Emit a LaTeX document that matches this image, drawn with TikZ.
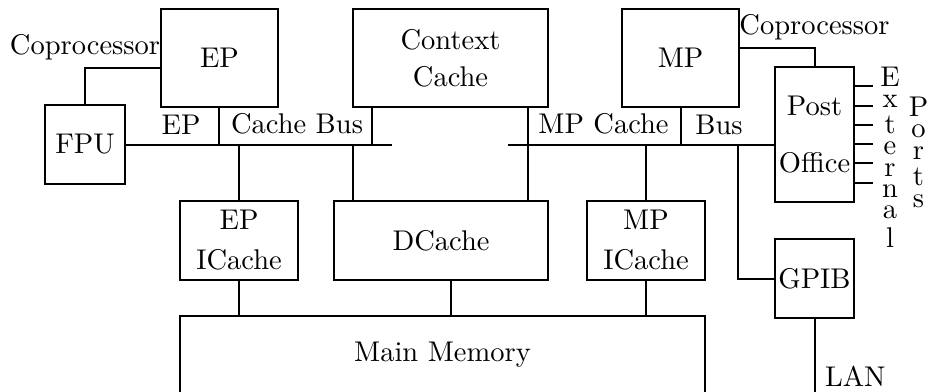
\documentclass[tikz,border=0pt]{standalone}
\usepackage{tikz}
\begin{document}
\begin{tikzpicture}[line width=0.7pt, box/.style={draw, align=center, inner sep=1pt}]
\useasboundingbox (0,0) rectangle (11.442,-4.833);
\clip (0,0) rectangle (11.442,-4.833);
\node [box, minimum width=1.443cm, minimum height=1.208cm] (EP) at (2.706,-0.715) {EP};
\node [box, minimum width=2.404cm, minimum height=1.208cm] (CC) at (5.555,-0.715) {Context\\[1pt]Cache};
\node [box, minimum width=1.443cm, minimum height=1.208cm] (MP) at (8.391,-0.715) {MP};
\node [box, minimum width=0.986cm, minimum height=0.974cm] (FPU) at (1.048,-1.782) {FPU};
\node [box, minimum width=0.974cm, minimum height=1.665cm] (PO) at (10.043,-1.658) {Post\\[8pt]Office};
\node [box, minimum width=1.455cm, minimum height=0.974cm] (EPI) at (2.947,-2.965) {EP\\[2pt]ICache};
\node [box, minimum width=2.639cm, minimum height=0.974cm] (DC) at (5.438,-2.965) {DCache};
\node [box, minimum width=1.455cm, minimum height=0.974cm] (MPI) at (7.965,-2.965) {MP\\[2pt]ICache};
\node [box, minimum width=0.974cm, minimum height=0.974cm] (GPIB) at (10.043,-3.434) {GPIB};
\node [box, minimum width=6.473cm, minimum height=0.962cm] (Mem) at (5.456,-4.377) {Main Memory};
\coordinate (busL) at (4.833,-1.788);
\coordinate (busR) at (6.264,-1.788);
\coordinate (gp) at (9.100,-1.788);
\coordinate (lan) at (10.043,-4.9);
\coordinate (ccL) at ([xshift=0.247cm]CC.south west);
\coordinate (ccR) at ([xshift=-0.259cm]CC.south east);
\coordinate (dcL) at ([xshift=0.247cm]DC.north west);
\coordinate (dcM) at (CC.south |- DC.south);
\draw ([yshift=-0.123cm]EP.west) -| node[above, inner sep=2.3pt] (cpE) {Coprocessor} (FPU.north);
\draw ([yshift=0.123cm]MP.east) -| node[above, inner sep=2.3pt] (cpM) {Coprocessor} (PO.north);
\draw (FPU.east |- busL) -- (busL);
\draw (busR) -- (busR -| PO.west);
\draw (EP.south) -- (EP.south |- busL);
\draw (ccL) -- (ccL |- busL);
\draw (ccR) -- (ccR |- DC.north);
\draw (MP.south) -- (MP.south |- busR);
\draw (EPI.north |- busL) -- (EPI.north);
\draw (dcL |- busL) -- (dcL);
\draw (MPI.north |- busR) -- (MPI.north);
\draw (gp) |- (GPIB.west);
\draw (EPI.south) -- (EPI.south |- Mem.north);
\draw (dcM) -- (dcM |- Mem.north);
\draw (MPI.south) -- (MPI.south |- Mem.north);
\draw (GPIB.south) -- (lan);
\node [above] (lblEP) at (2.232,-1.788) {EP};
\node [above] (lblCB) at (3.662,-1.788) {Cache Bus};
\node [above] (lblMC) at (7.441,-1.788) {MP Cache};
\node [above] (lblBus) at (8.865,-1.788) {Bus};
\node [right] (lblLAN) at (10.043,-4.636) {LAN};
\foreach \k in {-2.5,-1.5,...,2.5}
  \draw ([yshift=\k*0.237cm]PO.east) -- ++(0.222,0);
\node [anchor=north, inner sep=0] (ext) at (10.974,-0.814) {\shortstack{E\\x\\t\\e\\r\\n\\a\\l}};
\node [anchor=north, inner sep=0] (ports) at (11.325,-1.184) {\shortstack{P\\o\\r\\t\\s}};
\end{tikzpicture}
\end{document}
